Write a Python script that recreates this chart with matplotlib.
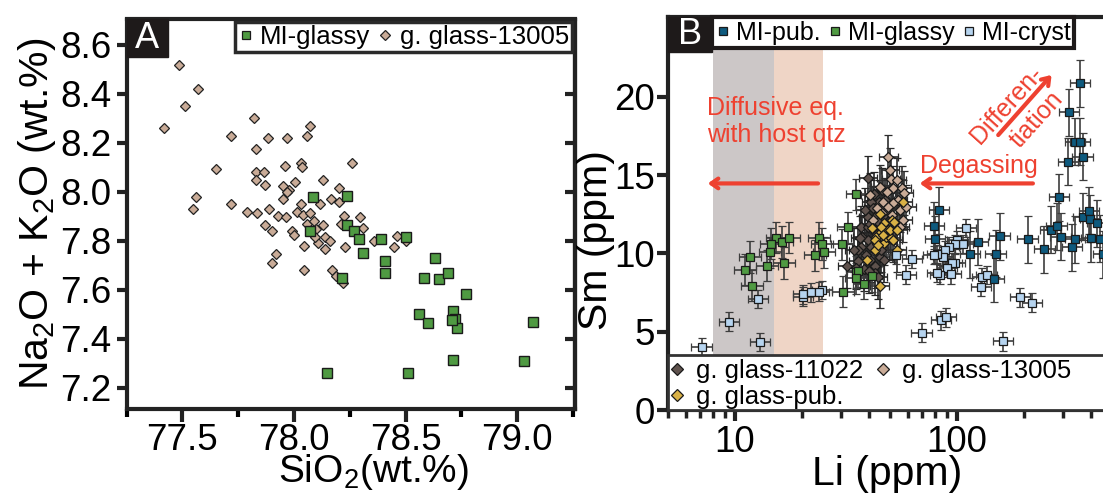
import numpy as np
import matplotlib.pyplot as plt
from matplotlib.patches import Rectangle
from matplotlib.lines import Line2D

plt.rcParams['font.family'] = ['Liberation Sans', 'DejaVu Sans']
plt.rcParams['mathtext.fontset'] = 'custom'
plt.rcParams['mathtext.rm'] = 'Liberation Sans'
plt.rcParams['mathtext.it'] = 'Liberation Sans:italic'

# ---- panel A: SiO2 vs Na2O+K2O ----
glassy_sio2 = [78.085, 78.24, 78.24, 78.27, 78.29, 78.31, 78.41, 78.41, 78.63, 78.585,
               78.65, 78.69, 78.39, 78.50, 78.215, 78.77, 78.56, 78.60, 78.714, 78.72,
               78.73, 78.71, 79.07, 78.714, 79.03, 78.15, 78.51, 78.07]
glassy_alk = [7.98, 7.985, 7.865, 7.84, 7.81, 7.75, 7.72, 7.67, 7.73, 7.65,
              7.646, 7.67, 7.81, 7.815, 7.65, 7.584, 7.50, 7.464, 7.515, 7.48,
              7.444, 7.478, 7.47, 7.313, 7.31, 7.26, 7.26, 7.84]

g13005_sio2 = [77.485, 77.57, 77.51, 77.42, 77.82, 77.72, 77.885, 77.97, 78.07, 78.06,
               77.83, 77.65, 77.83, 77.865, 77.83, 77.87, 77.96, 78.03, 78.035, 78.26,
               78.13, 78.005, 77.95, 77.98, 77.95, 77.56, 77.55, 77.72, 77.79, 77.835,
               77.89, 78.20, 78.165, 78.20, 78.115, 78.03, 78.225, 77.93, 77.965, 78.015,
               78.04, 78.07, 78.06, 78.09, 78.13, 78.10, 77.87, 77.90, 77.99, 78.00,
               78.045, 78.11, 78.14, 78.16, 78.14, 78.095, 78.21, 78.295, 78.31, 78.23,
               78.36, 78.39, 78.46, 78.50, 78.45, 77.92, 77.90, 78.045, 78.17, 78.19,
               78.22, 77.97]
g13005_alk = [8.52, 8.42, 8.35, 8.26, 8.30, 8.23, 8.22, 8.22, 8.27, 8.23,
              8.175, 8.095, 8.08, 8.08, 8.05, 8.03, 8.105, 8.12, 8.10, 8.12,
              8.05, 8.04, 8.025, 8.01, 7.97, 7.98, 7.93, 7.95, 7.92, 7.915,
              7.93, 8.015, 7.97, 7.96, 7.95, 7.95, 7.90, 7.90, 7.897, 7.92,
              7.905, 7.913, 7.87, 7.88, 7.866, 7.85, 7.864, 7.84, 7.84, 7.825,
              7.78, 7.79, 7.815, 7.80, 7.766, 7.816, 7.87, 7.897, 7.854, 7.774,
              7.80, 7.81, 7.82, 7.80, 7.774, 7.747, 7.71, 7.68, 7.68, 7.656,
              7.63, 8.00]

# ---- panel B: Li vs Sm ----
pub_li = [82.7, 78.7, 79.6, 114.6, 124, 155.6, 149.3, 146.9, 208, 248,
          288, 264, 281, 293, 330, 340, 371, 392, 396, 426,
          402, 441, 453, 316, 341, 368, 358, 358, 320]
pub_sm = [12.77, 11.77, 10.9, 9.94, 10.73, 11.1, 9.98, 8.39, 10.9, 10.26,
          13.6, 11.51, 11.75, 11.05, 10.39, 10.9, 12.34, 12.73, 12.2, 11.92,
          10.98, 10.94, 9.96, 15.86, 17.13, 16.18, 17.13, 20.86, 19.03]

glassyB_li = [35.3, 32.4, 30.5, 30.6, 35.3, 35.8, 35.2, 38.1, 41.4, 23.9,
              24.6, 25.3, 22.9, 15.4, 14.5, 16.3, 17.6, 14.4, 13.9, 16.6,
              11.7, 11.1, 11.9]
glassyB_sm = [13.77, 11.67, 10.58, 7.55, 8.81, 8.87, 8.41, 8.06, 8.56, 11.0,
              10.6, 10.07, 9.88, 11.0, 10.62, 10.73, 11.0, 10.07, 9.21, 9.39,
              9.77, 8.96, 7.94]

cryst_li = [7.08, 9.42, 12.96, 12.7, 20.2, 20.2, 22.1, 24.7, 24.0, 53.4,
            58.9, 62.5, 109.6, 99.7, 106, 97.7, 92.3, 88.3, 86.7, 81.1,
            78.5, 98, 95.1, 90.6, 93.7, 84.2, 81.4, 130, 128, 136,
            192, 217, 84.7, 89, 69.3, 162]
cryst_sm = [4.02, 5.64, 4.34, 7.09, 7.24, 7.4, 7.52, 7.66, 7.55, 9.9,
            8.64, 9.64, 11.62, 10.86, 10.6, 10.6, 10.43, 10.22, 9.79, 9.94,
            9.9, 9.37, 9.4, 9.09, 8.67, 8.64, 8.77, 8.47, 7.87, 8.62,
            7.2, 6.85, 5.73, 5.92, 4.94, 4.39]

g11022_li = [39.8, 37.1, 37.3, 37.1, 35.8, 31.9, 42.9, 44.9, 39.7, 42.6,
             39.7, 45.6, 47.5, 39.7, 46.0, 45.6, 47.2, 42.6, 34.5, 36.0,
             38.0, 40.0, 41.0, 43.0, 44.0, 44.5, 46.5, 41.0, 42.5, 38.5,
             36.5, 40.5, 44.0, 48.5, 46.5, 42.0, 35.0, 38.8, 43.8, 40.8]
g11022_sm = [14.83, 11.66, 11.07, 10.39, 10.22, 9.2, 9.2, 9.79, 10.86, 12.34,
             11.71, 12.98, 13.41, 12.34, 14.05, 10.22, 9.58, 8.73, 10.2, 9.5,
             9.0, 8.9, 10.4, 11.3, 12.0, 13.3, 12.4, 13.3, 13.8, 12.8,
             11.0, 9.6, 8.5, 12.8, 11.0, 12.9, 9.1, 9.9, 10.6, 11.9]

g13005_li = [49.2, 50.5, 40.6, 51.7, 56.4, 57.8, 54.3, 51.7, 46.6, 48.9,
             43.5, 55.4, 59.3, 45.8, 50.8, 57.3, 42.0, 48.2, 53.5, 45.0,
             49.9, 55.4]
g13005_sm = [16.18, 14.75, 13.73, 14.16, 14.16, 13.84, 13.41, 13.2, 13.3, 12.95,
             12.9, 12.77, 12.95, 12.56, 12.45, 12.13, 12.13, 13.94, 14.69, 14.26,
             15.33, 11.71]

gpub_li = [41.8, 43.3, 45.6, 48.9, 50.9, 57.1, 53.8, 39.4, 42.9, 47.2,
           44.9, 47.0, 42.6, 48.0, 50.3, 44.2, 51.7, 45.7, 41.3, 46.6,
           49.9, 45.0, 52.0, 54.0]
gpub_sm = [11.64, 11.07, 11.35, 11.49, 12.13, 13.3, 10.22, 9.58, 10.22, 10.64,
           7.92, 11.92, 10.86, 11.07, 10.96, 10.54, 10.86, 11.71, 11.6, 11.17,
           11.49, 12.5, 12.0, 11.5]

# error sizes: (relative Li factor, absolute Sm)
err_pub = (1.11, 1.5)
err_glassy = (1.12, 1.0)
err_cryst = (1.11, 0.6)
err_gg = (1.10, 1.4)

c_glassy = '#4f9a42'
c_13005 = '#c9ab97'
c_11022 = '#5f524d'
c_gpub = '#d9b146'
c_pub = '#0e5a7e'
c_cryst = '#b6d4ef'
c_red = '#ee4130'
c_dark = '#222222'

fig = plt.figure(figsize=(11.03, 4.94), dpi=100)

# ================= panel A =================
ax1 = fig.add_axes([126.5/1103, 85/494, 448/1103, 389.5/494])
ax1.plot(g13005_sio2, g13005_alk, 'D', ms=5.4, mfc=c_13005, mec=c_dark, mew=0.9, ls='none')
ax1.plot(glassy_sio2, glassy_alk, 's', ms=7, mfc=c_glassy, mec='#1a1a1a', mew=1.0, ls='none')
ax1.set_xlim(77.257, 79.257)
ax1.set_ylim(7.114, 8.704)
yt_A = [7.2, 7.4, 7.6, 7.8, 8.0, 8.2, 8.4, 8.6]
ax1.set_xticks([77.5, 78.0, 78.5, 79.0])
ax1.set_xticks(np.arange(77.25, 79.3, 0.25), minor=True)
ax1.set_yticks(yt_A)
ax1.tick_params(axis='both', labelsize=26.5, width=3, length=7, color=c_dark)
ax1.tick_params(axis='x', which='major', length=9, pad=1)
ax1.tick_params(axis='x', which='minor', length=6, width=3)
ax1.tick_params(axis='y', pad=4, right=False)
ax1r = ax1.secondary_yaxis('right')
ax1r.set_yticks(yt_A)
ax1r.tick_params(direction='in', length=7, width=3, color=c_dark, labelright=False)
ax1r.spines['right'].set_linewidth(3)
ax1r.spines['right'].set_color(c_dark)
for s in ax1.spines.values():
    s.set_linewidth(3)
    s.set_color(c_dark)
ax1.set_xlabel('SiO$_2$(wt.%)', fontsize=28)
ax1.xaxis.set_label_coords(0.552, -0.1874)
ax1.xaxis.label.set_verticalalignment('baseline')
ax1.set_ylabel('Na$_2$O + K$_2$O (wt.%)', fontsize=29.5)
ax1.yaxis.set_label_coords(-0.152, 0.5)

ax1.add_patch(Rectangle((0, 0.904), 0.0926, 0.096, transform=ax1.transAxes,
                        color='#1e1a1a', clip_on=False, zorder=5))
ax1.text(0.0463, 0.952, 'A', transform=ax1.transAxes, color='white', fontsize=26,
         ha='center', va='center', zorder=6)
hA = [Line2D([], [], marker='s', ls='none', ms=5.5, mfc=c_glassy, mec='#1a1a1a', mew=0.9),
      Line2D([], [], marker='D', ls='none', ms=5, mfc=c_13005, mec=c_dark, mew=0.9)]
legA = ax1.legend(hA, ['MI-glassy', 'g. glass-13005'], loc='upper right', bbox_to_anchor=(1, 1),
                  ncol=2, fontsize=18.5, frameon=True, fancybox=False, framealpha=1,
                  borderaxespad=0.1, borderpad=0.12, handlelength=0.6, handletextpad=0.25,
                  columnspacing=0.3)
legA.get_frame().set_edgecolor('#2a2a2a')
legA.get_frame().set_linewidth(2.5)
legA.set_zorder(10)

# ================= panel B =================
ax2 = fig.add_axes([668/1103, 84/494, 435/1103, 393/494])
ax2.set_xscale('log')
ax2.axvspan(8, 15, color='#ccc7c7', lw=0, zorder=0)
ax2.axvspan(15, 25, color='#efd5c6', lw=0, zorder=0)


def err_series(ax, x, y, err, marker, ms, fc, ec='#3d3d3d'):
    x = np.array(x)
    y = np.array(y)
    f, dy = err
    xe = [x - x / f, x * f - x]
    ax.errorbar(x, y, xerr=xe, yerr=dy, fmt=marker, ms=ms, mfc=fc, mec='#1a1a1a', mew=0.9,
                ecolor=ec, elinewidth=1.2, capsize=3, capthick=1.2, zorder=3)


err_series(ax2, g11022_li, g11022_sm, err_gg, 'D', 4.8, c_11022, '#262626')
err_series(ax2, g13005_li, g13005_sm, err_gg, 'D', 4.8, c_13005, '#2e2e2e')
err_series(ax2, gpub_li, gpub_sm, err_gg, 'D', 4.8, c_gpub, '#2e2e2e')
err_series(ax2, glassyB_li, glassyB_sm, err_glassy, 's', 5.8, c_glassy)
err_series(ax2, cryst_li, cryst_sm, err_cryst, 's', 5.8, c_cryst)
err_series(ax2, pub_li, pub_sm, err_pub, 's', 5.8, c_pub)

ax2.set_xlim(5, 455)
ax2.set_ylim(0, 25.1)
ax2.set_xticks([10, 100])
ax2.set_xticklabels(['10', '100'])
ax2.set_yticks([0, 5, 10, 15, 20])
ax2.tick_params(axis='both', which='major', labelsize=26.5, width=3, length=8, color=c_dark)
ax2.tick_params(axis='x', which='minor', width=2.5, length=6, color=c_dark)
ax2.tick_params(axis='x', pad=3)
ax2.tick_params(axis='y', pad=1.5)
ax2.spines['right'].set_visible(False)
for s in ['left', 'bottom', 'top']:
    ax2.spines[s].set_linewidth(3)
    ax2.spines[s].set_color(c_dark)
ax2.set_xlabel('Li (ppm)', fontsize=29.5)
ax2.xaxis.set_label_coords(0.503, -0.191)
ax2.xaxis.label.set_verticalalignment('baseline')
ax2.set_ylabel('Sm (ppm)', fontsize=29.5)
ax2.yaxis.set_label_coords(-0.122, 0.433)

# annotations
arrow_kw = dict(arrowstyle='->,head_length=0.5,head_width=0.35', color=c_red,
                lw=3, shrinkA=0, shrinkB=0)
ax2.text(7.48, 17.13, 'Diffusive eq.\nwith host qtz', color=c_red, fontsize=18,
         ha='left', va='baseline', linespacing=1.15, zorder=4)
ax2.annotate('', xy=(7.55, 14.47), xytext=(23.7, 14.47), arrowprops=arrow_kw, zorder=4)
ax2.text(68.5, 15.11, 'Degassing', color=c_red, fontsize=18, ha='left', va='baseline', zorder=4)
ax2.annotate('', xy=(68, 14.47), xytext=(220, 14.47), arrowprops=arrow_kw, zorder=4)
ax2.annotate('', xy=(267, 21.4), xytext=(153.5, 17.56), arrowprops=arrow_kw, zorder=4)
ax2.text(168, 19.5, 'Differen-', color=c_red, fontsize=18, rotation=48,
         rotation_mode='anchor', ha='center', va='center', zorder=4)
ax2.text(228, 18.55, 'tiation', color=c_red, fontsize=18, rotation=48,
         rotation_mode='anchor', ha='center', va='center', zorder=4)

ax2.add_patch(Rectangle((0, 0.911), 0.101, 0.089, transform=ax2.transAxes,
                        color='#1e1a1a', clip_on=False, zorder=5))
ax2.text(0.0505, 0.9555, 'B', transform=ax2.transAxes, color='white', fontsize=26,
         ha='center', va='center', zorder=6)

hB = [Line2D([], [], marker='s', ls='none', ms=6, mfc=c_pub, mec='#1a1a1a', mew=0.9),
      Line2D([], [], marker='s', ls='none', ms=6, mfc=c_glassy, mec='#1a1a1a', mew=0.9),
      Line2D([], [], marker='s', ls='none', ms=6, mfc=c_cryst, mec='#1a1a1a', mew=0.9)]
legB = ax2.legend(hB, ['MI-pub.', 'MI-glassy', 'MI-cryst'], loc='upper left',
                  bbox_to_anchor=(0.101, 1.0), ncol=3, fontsize=18, frameon=True, fancybox=False,
                  framealpha=1, borderaxespad=0, borderpad=0.15, handlelength=0.6,
                  handletextpad=0.2, columnspacing=0.3)
legB.get_frame().set_edgecolor('#1e1a1a')
legB.get_frame().set_linewidth(3)
legB.set_zorder(10)
ax2.add_artist(legB)

# white box holding the glass legend at the bottom of panel B
ax2.add_patch(Rectangle((0, 0), 1.02, 0.14, transform=ax2.transAxes, facecolor='white',
                        edgecolor='#333333', lw=2, clip_on=False, zorder=8))
hG = [Line2D([], [], marker='D', ls='none', ms=6.5, mfc=c_11022, mec='#1a1a1a', mew=0.9),
      Line2D([], [], marker='D', ls='none', ms=6.5, mfc=c_gpub, mec='#1a1a1a', mew=0.9),
      Line2D([], [], marker='D', ls='none', ms=6.5, mfc=c_13005, mec='#1a1a1a', mew=0.9)]
legG = ax2.legend(hG, ['g. glass-11022', 'g. glass-pub.', 'g. glass-13005'], loc='lower left',
                  bbox_to_anchor=(0, 0), ncol=2, fontsize=18.5, frameon=False,
                  borderaxespad=0, borderpad=0.05, handlelength=0.6, handletextpad=0.45,
                  columnspacing=0.45, labelspacing=0.05)
legG.set_zorder(10)

fig.savefig('out.png', dpi=100)
